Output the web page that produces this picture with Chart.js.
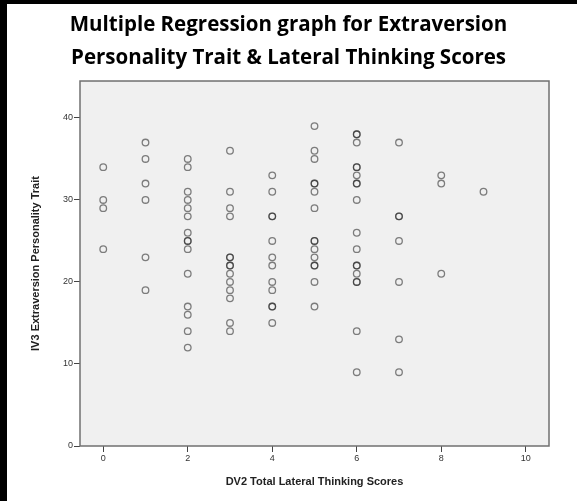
<!DOCTYPE html>
<html>
<head>
    <title>Multiple Regression - Extraversion vs Lateral Thinking</title>
    <script src="https://cdn.jsdelivr.net/npm/chart.js@4"></script>
    <style>
        html, body { margin: 0; padding: 0; background: #fff; }
        #wrap { position: relative; width: 577px; height: 501px; overflow: hidden; }
        #scatter { position: absolute; left: 0; top: 0; }
        #frameTop { position: absolute; left: 0; top: 0; width: 577px; height: 4px; background: #000; }
        #frameLeft { position: absolute; left: 0; top: 0; width: 7px; height: 501px; background: #000; }
    </style>
</head>
<body>
<div id="wrap">
    <canvas id="scatter" width="577" height="501"></canvas>
    <div id="frameTop"></div>
    <div id="frameLeft"></div>
</div>
<script>
    // DV2 lateral thinking score (x) and the IV3 extraversion scores seen at each one (y)
    const lateralScores = [0, 1, 2, 3, 4, 5, 6, 7, 8, 9];
    const extraversionByScore = [
        [34, 30, 29, 24],
        [37, 35, 32, 30, 23, 19],
        [35, 34, 31, 30, 29, 28, 26, 25, 25, 24, 21, 17, 16, 14, 12],
        [36, 31, 29, 28, 23, 23, 22, 22, 21, 20, 19, 18, 15, 14],
        [33, 31, 28, 28, 25, 23, 22, 20, 19, 17, 17, 15],
        [39, 36, 35, 32, 32, 31, 29, 25, 25, 24, 23, 22, 22, 20, 17],
        [38, 38, 37, 34, 34, 33, 32, 32, 30, 26, 24, 22, 22, 21, 20, 20, 14, 9],
        [37, 28, 28, 25, 20, 13, 9],
        [33, 32, 21],
        [31]
    ];
    const xTicks = [0, 2, 4, 6, 8, 10];
    const yTicks = [0, 10, 20, 30, 40];

    const points = [];
    lateralScores.forEach((score, i) => {
        extraversionByScore[i].forEach(v => points.push({ x: score, y: v }));
    });

    // grey SPSS-style plot box
    const plotBox = {
        id: 'plotBox',
        beforeDraw(chart) {
            const { ctx, chartArea: a } = chart;
            ctx.save();
            ctx.fillStyle = '#f0f0f0';
            ctx.fillRect(a.left, a.top, a.width, a.height);
            ctx.restore();
        },
        afterDraw(chart) {
            const { ctx, chartArea: a } = chart;
            ctx.save();
            ctx.strokeStyle = '#707070';
            ctx.lineWidth = 1.5;
            ctx.strokeRect(a.left, a.top, a.width, a.height);
            ctx.restore();
        }
    };

    Chart.defaults.font.family = '"Liberation Sans", Arial, sans-serif';

    new Chart(document.getElementById('scatter'), {
        type: 'scatter',
        data: {
            datasets: [{
                data: points,
                pointRadius: 3.3,
                pointBorderWidth: 1.3,
                pointBorderColor: 'rgba(30,30,30,0.55)',
                pointBackgroundColor: 'rgba(0,0,0,0)'
            }]
        },
        options: {
            responsive: false,
            animation: false,
            events: [],
            layout: { padding: 0 },
            plugins: {
                legend: { display: false },
                tooltip: { enabled: false },
                title: {
                    display: true,
                    text: ['Multiple Regression graph for Extraversion', 'Personality Trait & Lateral Thinking Scores'],
                    color: '#000',
                    font: { family: '"Open Sans", sans-serif', size: 20.5, weight: 'bold', lineHeight: 1.61 },
                    padding: { top: 9, bottom: 6 }
                }
            },
            scales: {
                x: {
                    type: 'linear',
                    min: -0.55,
                    max: 10.55,
                    afterBuildTicks: s => { s.ticks = xTicks.map(v => ({ value: v })); },
                    afterFit: s => { s.height = 55; },
                    border: { display: false },
                    grid: { drawOnChartArea: false, drawTicks: true, tickLength: 6, tickColor: '#444' },
                    ticks: { color: '#333', font: { size: 9 }, padding: 1, maxRotation: 0, autoSkip: false },
                    title: {
                        display: true,
                        text: 'DV2 Total Lateral Thinking Scores',
                        color: '#222',
                        font: { size: 11, weight: 'bold' },
                        padding: { top: 0, bottom: 12 }
                    }
                },
                y: {
                    type: 'linear',
                    min: 0,
                    max: 44.5,
                    afterBuildTicks: s => { s.ticks = yTicks.map(v => ({ value: v })); },
                    afterFit: s => { s.width = 80; },
                    border: { display: false },
                    grid: { drawOnChartArea: false, drawTicks: true, tickLength: 6, tickColor: '#444' },
                    ticks: { color: '#333', font: { size: 9 }, padding: 1 },
                    title: {
                        display: true,
                        text: 'IV3 Extraversion Personality Trait',
                        color: '#222',
                        font: { size: 11, weight: 'bold' },
                        padding: { top: 29, bottom: 0 }
                    }
                },
                // empty right axis, only keeps the title centred on the page
                yRight: {
                    position: 'right',
                    display: true,
                    border: { display: false },
                    grid: { display: false },
                    ticks: { display: false },
                    afterFit: s => { s.width = 28; }
                }
            }
        },
        plugins: [plotBox]
    });
</script>
</body>
</html>
